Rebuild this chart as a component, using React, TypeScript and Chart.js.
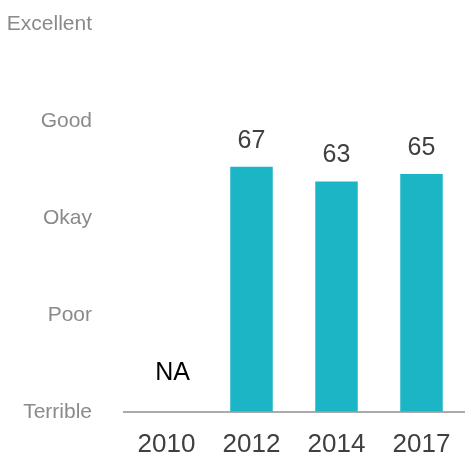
import React, { useEffect, useRef } from "react";
import { Chart, registerables } from "chart.js";

Chart.register(...registerables);

const years = ["2010", "2012", "2014", "2017"];
const scores: (number | null)[] = [null, 67, 63, 65];
const ratingLabels = ["Terrible", "Poor", "Okay", "Good", "Excellent"];
const ratingValues = [0, 26.5, 53, 79.5, 106];

const FONT = "'Liberation Sans', Arial, sans-serif";

const labelPlugin = {
  id: "barValueLabels",
  afterDatasetsDraw(chart: any) {
    const { ctx } = chart;
    const meta = chart.getDatasetMeta(0);
    const yScale = chart.scales.y;
    ctx.save();
    ctx.textAlign = "center";
    ctx.textBaseline = "middle";
    meta.data.forEach((bar: any, i: number) => {
      const v = scores[i];
      if (v == null) {
        ctx.fillStyle = "#000000";
        ctx.font = `25px ${FONT}`;
        ctx.fillText("NA", bar.x + 6, yScale.getPixelForValue(0) - 39);
      } else {
        ctx.fillStyle = "#404040";
        ctx.font = `25px ${FONT}`;
        ctx.fillText(String(v), bar.x, bar.y - 26);
      }
    });
    ctx.restore();
  },
};

export default function App() {
  const ref = useRef<HTMLCanvasElement>(null);
  useEffect(() => {
    if (!ref.current) return;
    const chart = new Chart(ref.current, {
      type: "bar",
      data: {
        labels: years,
        datasets: [
          {
            data: scores as any,
            backgroundColor: "#1bb5c6",
            barPercentage: 0.5,
            categoryPercentage: 1,
          },
        ],
      },
      options: {
        animation: false,
        responsive: false,
        maintainAspectRatio: false,
        layout: { padding: { top: 24, right: 7, left: 0, bottom: 0 } },
        plugins: { legend: { display: false }, tooltip: { enabled: false } },
        scales: {
          x: {
            grid: { display: false, drawTicks: false },
            border: { display: true, color: "#ababab", width: 2 },
            ticks: {
              color: "#404040",
              font: { family: FONT, size: 26 },
              padding: 17,
            },
            afterFit(scale: any) {
              scale.height = 50;
            },
          },
          y: {
            min: 0,
            max: 106,
            grid: {
              display: true,
              drawOnChartArea: false,
              drawTicks: true,
              tickLength: 32,
              color: "rgba(0,0,0,0)",
            },
            border: { display: false },
            afterBuildTicks(scale: any) {
              scale.ticks = ratingValues.map((v) => ({ value: v }));
            },
            ticks: {
              color: "#8a8a8a",
              font: { family: FONT, size: 21 },
              padding: 0,
              callback: (_v: any, i: number) => ratingLabels[i],
            },
            afterFit(scale: any) {
              scale.width = 124;
            },
          },
        },
      },
      plugins: [labelPlugin],
    });
    return () => chart.destroy();
  }, []);
  return (
    <div style={{ position: "fixed", left: 0, top: 0, width: 471, height: 462, background: "#fff" }}>
      <canvas ref={ref} width={471} height={462} />
    </div>
  );
}
